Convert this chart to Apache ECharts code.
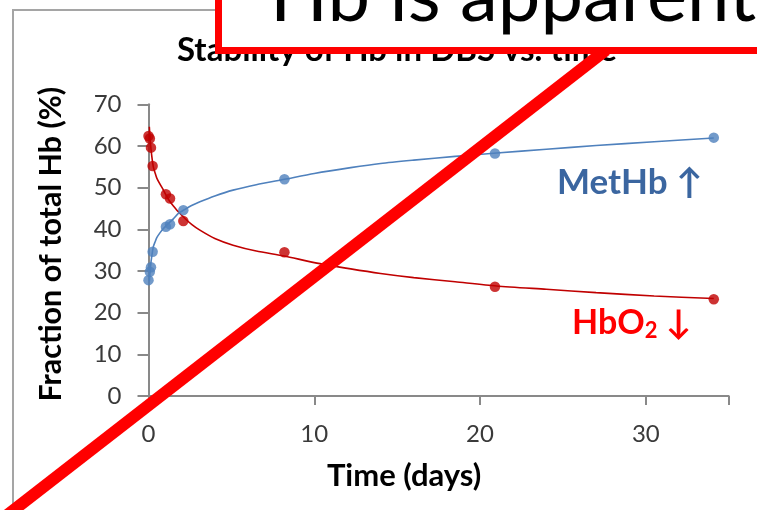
<!DOCTYPE html>
<html>
<head>
<meta charset="utf-8">
<script src="https://cdn.jsdelivr.net/npm/echarts@6/dist/echarts.min.js"></script>
<style>
html,body{margin:0;padding:0;background:#fff;}
#c{width:757px;height:510px;}
</style>
</head>
<body>
<div id="c"></div>
<script>
// ---- data ----
const times   = [0, 0.08, 0.15, 0.25, 1.05, 1.3, 2.1, 8.2, 20.9, 34.1];
const hbo2    = [62.4, 61.8, 59.6, 55.2, 48.4, 47.4, 42.0, 34.5, 26.2, 23.2];
const metHb   = [27.8, 29.8, 30.9, 34.6, 40.6, 41.2, 44.6, 52.0, 58.2, 62.0];
// trend curves
const fitTime = [0.05, 0.12, 0.2, 0.29, 0.4, 0.5, 0.7, 0.9, 1.1, 1.3, 1.5, 1.8, 2.2, 2.6, 3.1, 4, 5.1, 6.5, 8.2, 10, 12.2, 14, 16, 18.5, 21, 24, 27, 30.5, 34.1];
const hbo2Fit = [64.6, 60.5, 57.5, 55.0, 53.5, 52.3, 50.8, 49.4, 47.9, 46.6, 45.6, 44.2, 42.6, 41.2, 39.8, 37.8, 36.2, 34.8, 33.6, 32.0, 30.5, 29.4, 28.4, 27.4, 26.4, 25.6, 24.8, 24.0, 23.4];
const metFit  = [27.5, 31.0, 33.6, 35.8, 37.0, 38.0, 39.2, 40.2, 41.0, 41.8, 42.5, 43.8, 44.8, 45.7, 46.6, 48.0, 49.4, 50.7, 52.0, 53.4, 54.8, 55.8, 56.6, 57.5, 58.3, 59.2, 60.1, 61.0, 61.9];
const xTicks  = [0, 10, 20, 30];
const yTicks  = [0, 10, 20, 30, 40, 50, 60, 70];
const chartTitle = 'Stability of Hb in DBS vs. time';
const xName = 'Time (days)';
const yName = 'Fraction of total Hb (%)';
const slideText = 'Hb is apparently';

const zip = (xs, ys) => xs.map((x, i) => [x, ys[i]]);
const F = 'Lato, "Open Sans", sans-serif';
const axisCol = '#898989';
const red = '#c00000', blue = '#4f81bd';

const chart = echarts.init(document.getElementById('c'), null, {renderer: 'canvas'});
chart.setOption({
  backgroundColor: '#ffffff',
  animation: false,
  title: {
    text: chartTitle,
    left: 177, top: 32, padding: 0,
    textStyle: {fontFamily: F, fontWeight: 'bold', fontSize: 33, color: '#000', lineHeight: 36}
  },
  grid: {left: 148.5, top: 104.3, width: 580.2, height: 291.7, containLabel: false},
  xAxis: {
    type: 'value', min: 0, max: 35, interval: 10,
    name: xName, nameLocation: 'middle', nameGap: 64,
    nameTextStyle: {fontFamily: F, fontWeight: 'bold', fontSize: 31, color: '#000', padding: [0, 0, 0, -69]},
    axisLine: {show: true, lineStyle: {color: axisCol, width: 2}},
    axisTick: {show: true, length: 9, lineStyle: {color: axisCol, width: 2}},
    splitLine: {show: false},
    axisLabel: {fontFamily: F, fontSize: 24, color: '#3a3a3a', margin: 26,
      formatter: v => xTicks.includes(v) ? String(v) : ''}
  },
  yAxis: {
    type: 'value', min: 0, max: 70, interval: 10,
    name: yName, nameLocation: 'middle', nameGap: 82, nameRotate: 90,
    nameTextStyle: {fontFamily: F, fontWeight: 'bold', fontSize: 30.5, color: '#000', padding: [0, 0, 0, 12]},
    axisLine: {show: true, lineStyle: {color: axisCol, width: 2}},
    axisTick: {show: true, length: 11, lineStyle: {color: axisCol, width: 2}},
    splitLine: {show: false},
    axisLabel: {fontFamily: F, fontSize: 24, color: '#3a3a3a', margin: 27,
      formatter: v => yTicks.includes(v) ? String(v) : ''}
  },
  series: [
    {type: 'line', data: zip(fitTime, hbo2Fit), smooth: 0.25, showSymbol: false,
      lineStyle: {color: red, width: 1.6}, z: 2},
    {type: 'line', data: zip(fitTime, metFit), smooth: 0.25, showSymbol: false,
      lineStyle: {color: blue, width: 1.6}, z: 2},
    {type: 'scatter', data: zip(times, hbo2), symbolSize: 10.5, itemStyle: {color: red}, z: 3},
    {type: 'scatter', data: zip(times, metHb), symbolSize: 10.5, itemStyle: {color: blue}, z: 3}
  ],
  graphic: [
    {type: 'rect', z: 0, silent: true,
      shape: {x: 13, y: 10, width: 900, height: 700},
      style: {fill: null, stroke: '#a5a5a5', lineWidth: 2}},
    {type: 'text', z: 10, left: 557, top: 165,
      style: {text: 'MetHb \u2191', font: 'bold 35px ' + F, fill: '#3b66a0'}},
    {type: 'text', z: 10, left: 572, top: 306,
      style: {text: '{a|HbO}{s|2}{a| \u2193}',
        rich: {
          a: {fontFamily: F, fontWeight: 'bold', fontSize: 34, fill: '#ff0000', lineHeight: 38},
          s: {fontFamily: F, fontWeight: 'bold', fontSize: 22, fill: '#ff0000', lineHeight: 8, verticalAlign: 'bottom'}
        }}},
    {type: 'line', z: 100, silent: true,
      shape: {x1: -12, y1: 530, x2: 606, y2: 50},
      style: {stroke: '#ff0000', lineWidth: 12}},
    {type: 'rect', z: 101, silent: true,
      shape: {x: 218.5, y: -30, width: 700, height: 80.5},
      style: {fill: '#ffffff', stroke: '#ff0000', lineWidth: 7}},
    {type: 'text', z: 102, silent: true, left: 270, top: -42,
      style: {text: slideText, font: '76px ' + F, fill: '#000'}}
  ]
});
</script>
</body>
</html>
